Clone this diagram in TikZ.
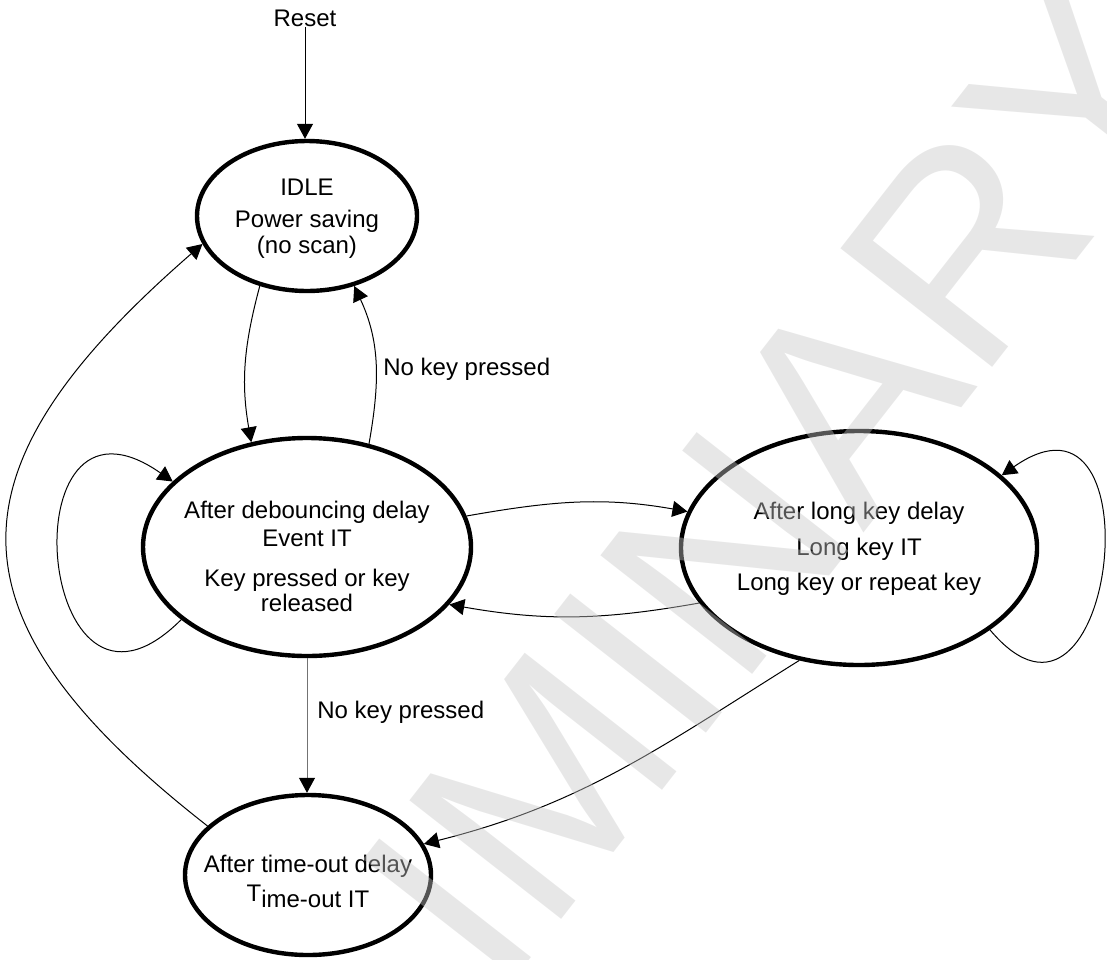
\documentclass[tikz,border=0pt]{standalone}
\usepackage{fontspec}
\setmainfont{Liberation Sans}
\usetikzlibrary{shapes.geometric,arrows.meta}
\begin{document}
\begin{tikzpicture}[x=0.5pt,y=-0.5pt,
    state/.style={draw,ellipse,line width=2.2pt,inner sep=0pt},
    txt/.style={align=center,inner sep=0pt,font=\fontsize{12}{14}\selectfont},
    lbl/.style={anchor=west,inner sep=0pt,font=\fontsize{12}{14}\selectfont},
    trans/.style={-{Triangle[length=7.5pt,width=8pt,color=black]},line width=0.5pt},
    wmark/.style={rotate=52,inner sep=0pt,text=black!22,fill opacity=0.42,font=\fontsize{140}{140}\selectfont}]
    \path[use as bounding box](0,0) rectangle (1107,959);
    \node[txt] (reset) at (305,18) {Reset};
    \node[state,minimum width=110pt,minimum height=75pt,
        label={[txt,yshift=-1.25pt]center:IDLE\\[2pt]Power saving\\[-1pt](no scan)}] (idle) at (307,216) {};
    \node[state,minimum width=164pt,minimum height=109pt,
        label={[txt,yshift=-4.5pt]center:After debouncing delay\\Event IT\\[6pt]Key pressed or key\\[-1.5pt]released}] (debounce) at (307,547) {};
    \node[state,minimum width=178pt,minimum height=117pt,
        label={[txt,yshift=-0.5pt]center:After long key delay\\[3.7pt]Long key IT\\[3.7pt]Long key or repeat key}] (longkey) at (859,548) {};
    \node[state,minimum width=123pt,minimum height=80pt,
        label={[txt,yshift=-3.25pt]center:After time-out delay\\[3.5pt]\raisebox{3pt}{T}ime-out IT}] (timeout) at (308,875) {};
    \node[lbl] (nokeyup) at (383,369) {No key pressed};
    \node[lbl] (nokeydown) at (317,712) {No key pressed};
    \draw[trans] (reset.south) -- (reset.south |- idle.north);
    \draw[trans] (idle.-124) to[out=-105,in=100] (debounce.118);
    \draw[trans] (debounce.59) to[out=80,in=-65] (idle.-56);
    \draw[trans] (debounce.210) to[out=-135,in=145,looseness=3.8] (debounce.154);
    \draw[trans] (debounce.11) to[out=10,in=170] (longkey.168);
    \draw[trans] (longkey.199) to[out=190,in=-10] (debounce.-22);
    \draw[trans] (longkey.-32) to[out=-50,in=35,looseness=3.2] (longkey.27);
    \draw[trans,draw=black!55] (debounce.south) -- (debounce.south |- timeout.north);
    \draw[trans] (longkey.242) to[out=212,in=14] (timeout.15);
    \draw[trans] (timeout.154) to[out=142,in=221,looseness=1.5] (idle.195);
    \begin{scope}
        \clip (0,0) rectangle (1107,959);
        \node[wmark] (prelim) at (556,770) {PRELIMINARY};
    \end{scope}
\end{tikzpicture}
\end{document}
